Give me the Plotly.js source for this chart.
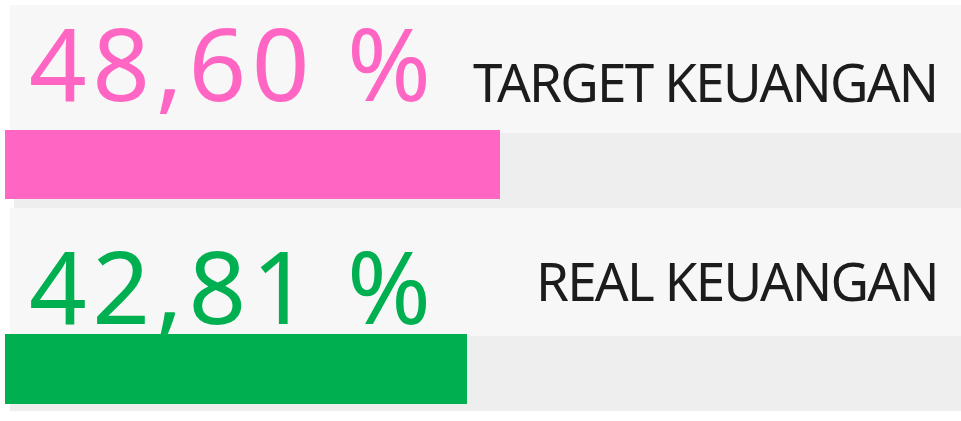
<!DOCTYPE html>
<html>
<head>
<meta charset="utf-8">
<script src="https://cdn.plot.ly/plotly-3.0.1.min.js"></script>
<style>
html,body{margin:0;padding:0;background:#fff;}
#chart{width:961px;height:421px;}
text[style*="font-size: 101px"]{letter-spacing:5.6px;}
text[style*="font-size: 53px"]{letter-spacing:-1.8px;}
</style>
</head>
<body>
<div id="chart"></div>
<script>
// Data
var labels = ["TARGET KEUANGAN", "REAL KEUANGAN"];
var values = [48.60, 42.81];
var valueTexts = ["48,60 %", "42,81 %"];
var colors = ["#ff66c4", "#00b050"];

var W = 961, H = 421;
function px(x){ return x / W; }
function py(y){ return (H - y) / H; }

var FONT = "Noto Sans, Open Sans, sans-serif";

var traces = [
  {type: "bar", orientation: "h", x: [values[0]], y: [labels[0]], marker: {color: colors[0]},
   xaxis: "x", yaxis: "y", hoverinfo: "skip", showlegend: false},
  {type: "bar", orientation: "h", x: [values[1]], y: [labels[1]], marker: {color: colors[1]},
   xaxis: "x2", yaxis: "y2", hoverinfo: "skip", showlegend: false}
];

function ax(domain, range){
  return {domain: domain, range: range, showgrid: false, zeroline: false, showticklabels: false,
          showline: false, ticks: "", fixedrange: true};
}

var layout = {
  width: W, height: H,
  margin: {l: 0, r: 0, t: 0, b: 0},
  paper_bgcolor: "#ffffff",
  plot_bgcolor: "rgba(0,0,0,0)",
  bargap: 0,
  xaxis: ax([px(5), 1], [0, 93.86]),
  yaxis: ax([py(199), py(130)], [-0.5, 0.5]),
  xaxis2: ax([px(5), 1], [0, 88.59]),
  yaxis2: ax([py(404), py(334)], [-0.5, 0.5]),
  shapes: [
    {type: "rect", xref: "paper", yref: "paper", x0: px(10), x1: 1, y0: py(133), y1: py(5), fillcolor: "#f7f7f7", line: {width: 0}, layer: "below"},
    {type: "rect", xref: "paper", yref: "paper", x0: px(14), x1: 1, y0: py(208), y1: py(133), fillcolor: "#eeeeee", line: {width: 0}, layer: "below"},
    {type: "rect", xref: "paper", yref: "paper", x0: px(10), x1: 1, y0: py(336), y1: py(208), fillcolor: "#f7f7f7", line: {width: 0}, layer: "below"},
    {type: "rect", xref: "paper", yref: "paper", x0: px(10), x1: 1, y0: py(411), y1: py(336), fillcolor: "#eeeeee", line: {width: 0}, layer: "below"}
  ],
  annotations: [
    {xref: "paper", yref: "paper", x: px(232.5), y: py(62), xanchor: "center", yanchor: "middle", showarrow: false,
     height: 118, valign: "middle",
     text: valueTexts[0], font: {family: FONT, size: 101, color: colors[0]}},
    {xref: "paper", yref: "paper", x: px(705), y: py(82), xanchor: "center", yanchor: "middle", showarrow: false,
     text: labels[0], font: {family: FONT, size: 53, color: "#1c1c1c"}},
    {xref: "paper", yref: "paper", x: px(232.5), y: py(285), xanchor: "center", yanchor: "middle", showarrow: false,
     height: 118, valign: "middle",
     text: valueTexts[1], font: {family: FONT, size: 101, color: colors[1]}},
    {xref: "paper", yref: "paper", x: px(737), y: py(280), xanchor: "center", yanchor: "middle", showarrow: false,
     text: labels[1], font: {family: FONT, size: 53, color: "#1c1c1c"}}
  ]
};

Plotly.newPlot("chart", traces, layout, {displayModeBar: false, staticPlot: true});
</script>
</body>
</html>
